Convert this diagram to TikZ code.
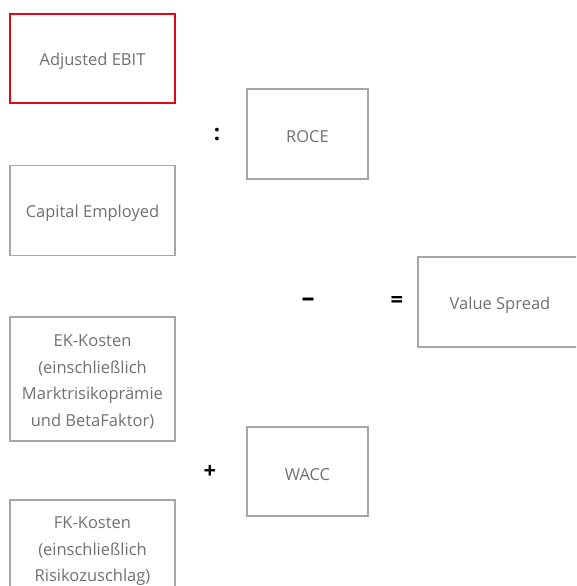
\documentclass[tikz,border=0pt]{standalone}
\usepackage{fontspec}
\setmainfont{Open Sans}
\definecolor{boxgray}{HTML}{A6A6A6}
\definecolor{txtgray}{HTML}{707070}
\definecolor{ebitred}{HTML}{E30613}
\newcommand\dnstrut{\rule{0pt}{18pt}}
\begin{document}
\begin{tikzpicture}[x=1pt,y=-1pt,
  box/.style={draw=boxgray,line width=1.5pt,minimum width=165pt,align=center,
    text=txtgray,font=\fontsize{16.5}{26.5}\selectfont,inner sep=0pt},
  op/.style={font=\fontsize{22}{22}\selectfont\bfseries,text=black,inner sep=0pt}]
\useasboundingbox (0,0) rectangle (576,586);
\clip (0,0) rectangle (576,586);
\node[box,draw=ebitred,minimum height=89pt] (ebit) at (92.5,58.5) {\dnstrut Adjusted EBIT};
\node[box,minimum height=90pt] (ce) at (92.5,210.5) {\dnstrut Capital Employed};
\node[box,minimum width=121pt,minimum height=90pt] (roce) at (307.5,134) {\dnstrut ROCE};
\node[box,minimum width=164pt,minimum height=90pt] (vs) at (500,302) {\dnstrut Value Spread};
\node[box,minimum height=124pt] (ek) at (92.5,379) {\dnstrut EK-Kosten\\(einschließlich\\Marktrisikoprämie\\und BetaFaktor)};
\node[box,minimum width=121pt,minimum height=89pt] (wacc) at (307.5,471.5) {\dnstrut WACC};
\node[box,minimum height=96pt] (fk) at (92.5,548) {\dnstrut FK-Kosten\\(einschließlich\\Risikozuschlag)};
\node[op] (div) at (217,135) {:};
\node[op,font=\fontsize{26}{26}\selectfont\bfseries] (minus) at (308,302) {–};
\node[op] (eq) at (397,302) {=};
\node[op] (plus) at (210,472) {+};
\end{tikzpicture}
\end{document}
